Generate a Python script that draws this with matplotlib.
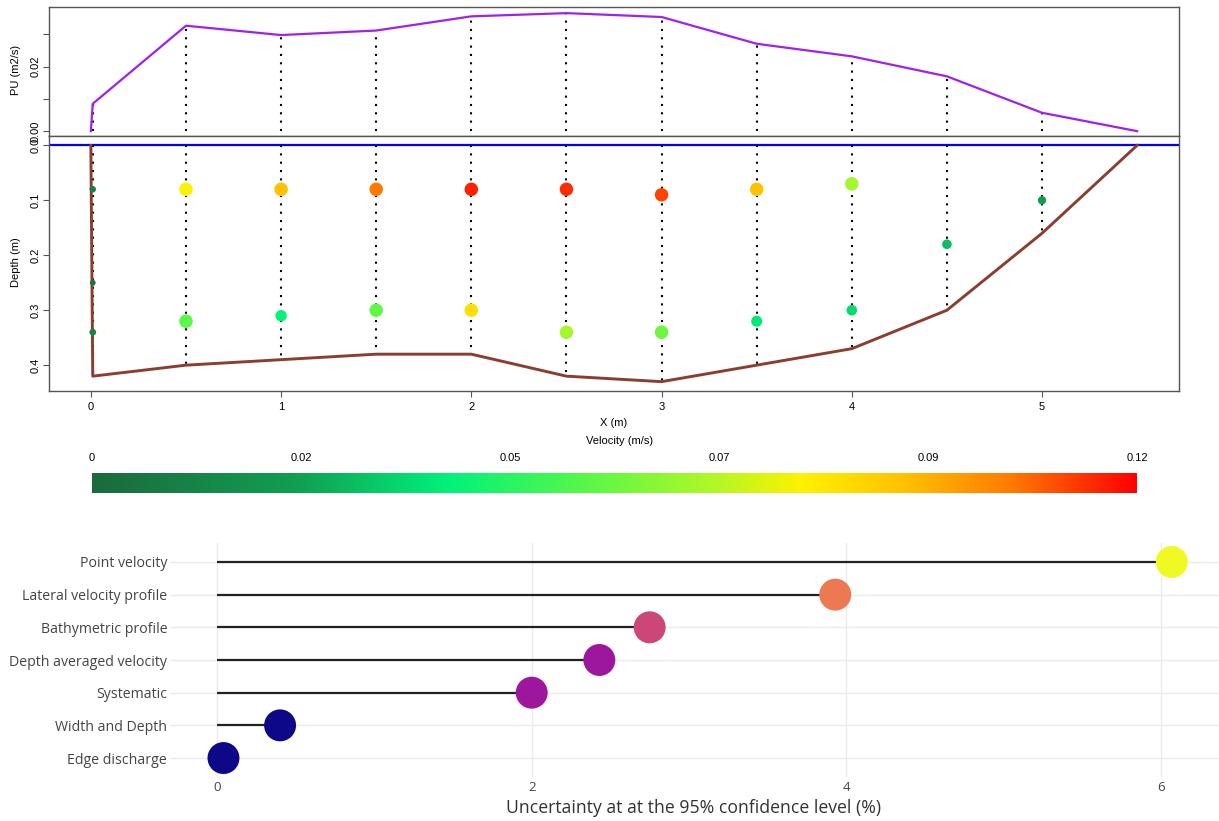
import numpy as np
import matplotlib
matplotlib.use("Agg")
import matplotlib.pyplot as plt
from matplotlib.colors import LinearSegmentedColormap, Normalize

# gauging section: verticals, bed and unit discharge
vert_x = [0.01, 0.5, 1.0, 1.5, 2.0, 2.5, 3.0, 3.5, 4.0, 4.5, 5.0]
vert_depth = [0.42, 0.40, 0.39, 0.38, 0.38, 0.42, 0.43, 0.40, 0.37, 0.30, 0.16]
bed_x = [0.0, 0.01, 0.5, 1.0, 1.5, 2.0, 2.5, 3.0, 3.5, 4.0, 4.5, 5.0, 5.5]
bed_depth = [0.0, 0.42, 0.40, 0.39, 0.38, 0.38, 0.42, 0.43, 0.40, 0.37, 0.30, 0.16, 0.0]
pu = [0.0, 0.0085, 0.0327, 0.0298, 0.0312, 0.0356, 0.0366, 0.0354, 0.0271, 0.0232, 0.0170, 0.0057, 0.0]

# point velocity measurements
pt_x = [0.01, 0.01, 0.01, 0.5, 0.5, 1.0, 1.0, 1.5, 1.5, 2.0, 2.0,
        2.5, 2.5, 3.0, 3.0, 3.5, 3.5, 4.0, 4.0, 4.5, 5.0]
pt_depth = [0.08, 0.25, 0.34, 0.08, 0.32, 0.08, 0.31, 0.08, 0.30, 0.08, 0.30,
            0.08, 0.34, 0.09, 0.34, 0.08, 0.32, 0.07, 0.30, 0.18, 0.10]
pt_vel = [0.009, 0.005, 0.011, 0.078, 0.055, 0.090, 0.040, 0.102, 0.056, 0.112, 0.083,
          0.111, 0.067, 0.108, 0.058, 0.090, 0.038, 0.067, 0.035, 0.029, 0.021]
vel_max = 0.116
cbar_labels = ["0", "0.02", "0.05", "0.07", "0.09", "0.12"]

# uncertainty budget
sources = ["Edge discharge", "Width and Depth", "Systematic", "Depth averaged velocity",
           "Bathymetric profile", "Lateral velocity profile", "Point velocity"]
uncert = [0.04, 0.40, 2.00, 2.43, 2.75, 3.93, 6.07]

W, H = 1219, 821


def fx(px):
    return px / W


def fy(py):
    return 1 - py / H


vel_cmap = LinearSegmentedColormap.from_list("vel", [
    (0.0, "#1b6a3d"), (0.2, "#11a152"), (0.34, "#00f27a"), (0.5, "#6cf840"),
    (0.6, "#b5f725"), (0.68, "#fff200"), (0.78, "#ffc000"), (0.88, "#ff7b00"),
    (1.0, "#ff0000")])

plt.rcParams["font.family"] = ["Liberation Sans", "DejaVu Sans"]
fig = plt.figure(figsize=(W / 100, H / 100), dpi=100)

left, right = fx(49), fx(1179)
ax_top = fig.add_axes([left, fy(136), right - left, fy(7) - fy(136)])
ax_mid = fig.add_axes([left, fy(391), right - left, fy(136) - fy(391)])

dot = (0, (1, 3))
ax_top.plot(bed_x, pu, color="#a020f0", lw=1.6, zorder=3)
ax_top.vlines(vert_x, 0, pu[1:-1], colors="black", lw=1.5, linestyles=dot, zorder=2)
ax_top.set_xlim(-0.22, 5.72)
ax_top.set_ylim(-0.0015, 0.0385)
ax_top.set_xticks([])
ax_top.set_yticks([0, 0.01, 0.02, 0.03])
ax_top.set_yticklabels(["0.00", "", "0.02", ""], rotation=90, va="center")

ax_mid.axhline(0, color="blue", lw=1.6, zorder=2)
ax_mid.vlines(vert_x, 0, vert_depth, colors="black", lw=1.5, linestyles=dot, zorder=2)
ax_mid.plot(bed_x, bed_depth, color="#8b3e2f", lw=2.1, zorder=3)
sizes = [(min(13.5, 5 + 160 * v) * 0.72) ** 2 for v in pt_vel]
ax_mid.scatter(pt_x, pt_depth, s=sizes, c=pt_vel, cmap=vel_cmap, vmin=0, vmax=vel_max,
               linewidths=0, zorder=4)
ax_mid.set_xlim(-0.22, 5.72)
ax_mid.set_ylim(0.447, -0.017)
ax_mid.set_xticks(range(6))
ax_mid.set_yticks([0, 0.1, 0.2, 0.3, 0.4])
ax_mid.set_yticklabels(["0.0", "0.1", "0.2", "0.3", "0.4"], rotation=90, va="center")

for ax in (ax_top, ax_mid):
    for sp in ax.spines.values():
        sp.set_color("#555555")
        sp.set_linewidth(1)
    ax.tick_params(length=4, width=0.8, color="#555555", labelsize=8, pad=2)
ax_mid.tick_params(axis="x", pad=4)

fig.text(fx(16), fy(70), "PU (m2/s)", rotation=90, ha="center", va="center", fontsize=8)
fig.text(fx(16), fy(262), "Depth (m)", rotation=90, ha="center", va="center", fontsize=8)
fig.text(fx(614), fy(423), "X (m)", ha="center", va="center", fontsize=8)
fig.text(fx(620), fy(441), "Velocity (m/s)", ha="center", va="center", fontsize=8)

# colour bar for velocity
ax_cb = fig.add_axes([fx(92), fy(493), fx(1137) - fx(92), fy(473) - fy(493)])
grad = np.linspace(0, vel_max, 512).reshape(1, -1)
ax_cb.imshow(grad, aspect="auto", cmap=vel_cmap, extent=[0, 1, 0, 1])
ax_cb.set_yticks([])
ax_cb.xaxis.tick_top()
ax_cb.set_xticks(np.linspace(0, 1, len(cbar_labels)))
ax_cb.set_xticklabels(cbar_labels)
ax_cb.tick_params(length=0, labelsize=8, pad=7)
for sp in ax_cb.spines.values():
    sp.set_visible(False)

# lollipop chart
ax_b = fig.add_axes([fx(170), fy(777), 1 - fx(170), fy(543) - fy(777)])
ypos = np.arange(len(sources))
dot_colors = plt.get_cmap("plasma")(Normalize(0, 6)(np.round(uncert)))
ax_b.hlines(ypos, 0, uncert, color="#222222", lw=1.6, zorder=2)
ax_b.scatter(uncert, ypos, s=23 ** 2, c=dot_colors, linewidths=0, zorder=3)
ax_b.set_xlim(-0.30, 6.37)
ax_b.set_ylim(-0.58, 6.58)
ax_b.set_xticks([0, 2, 4, 6])
ax_b.set_yticks(ypos)
ax_b.set_yticklabels(sources)
ax_b.grid(True, color="#ebebeb", lw=1, zorder=0)
ax_b.set_axisbelow(True)
for sp in ax_b.spines.values():
    sp.set_visible(False)
ax_b.tick_params(axis="y", length=0, labelsize=10.2, labelcolor="#444444", pad=2)
ax_b.tick_params(axis="x", length=0, labelsize=9.5, labelcolor="#444444", pad=3)
for lab in ax_b.get_xticklabels() + ax_b.get_yticklabels():
    lab.set_family(["Open Sans", "DejaVu Sans"])
fig.text(fx(694), fy(808), "Uncertainty at at the 95% confidence level (%)",
         ha="center", va="center", fontsize=12.7, color="#333333",
         family=["Open Sans", "DejaVu Sans"])

fig.savefig("out.png", dpi=100)
